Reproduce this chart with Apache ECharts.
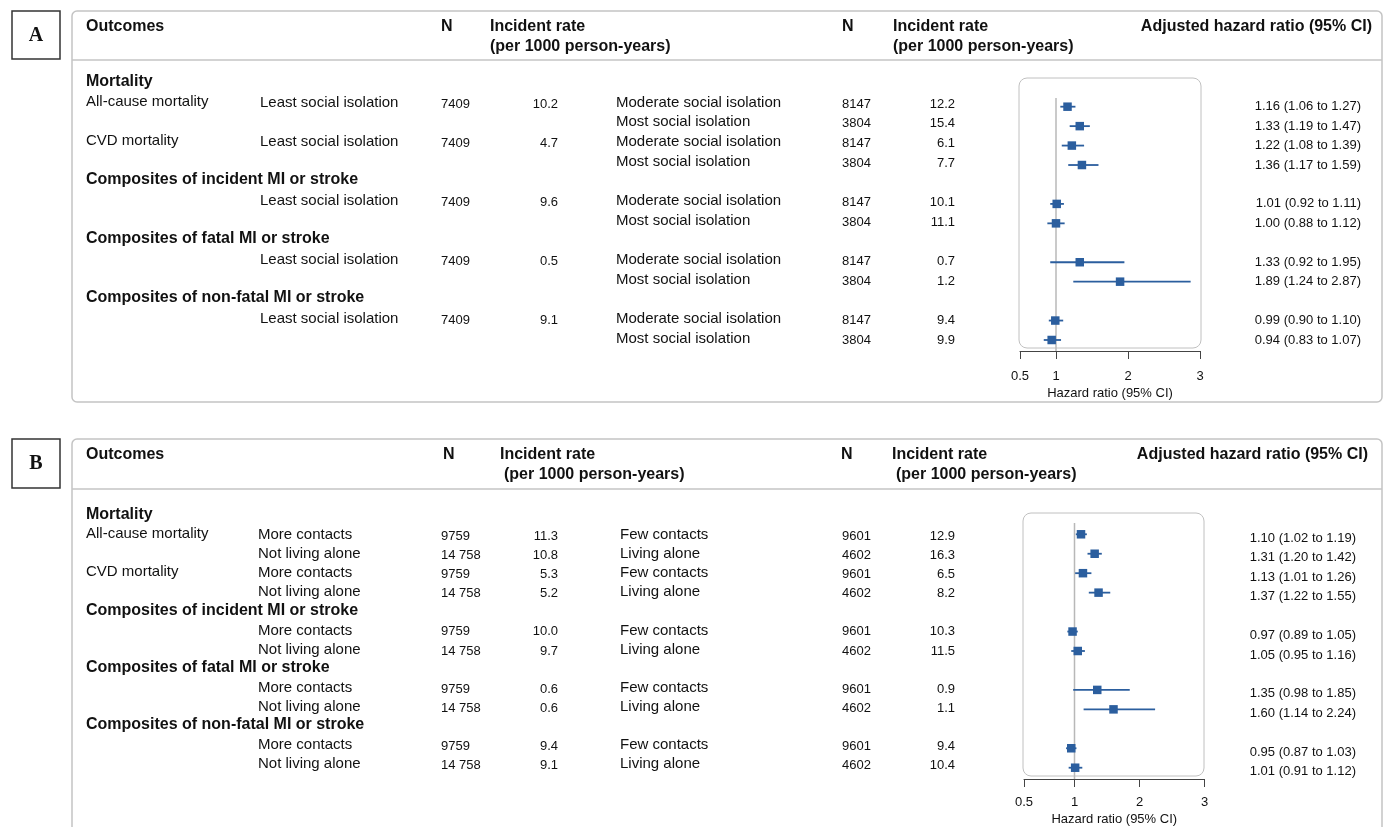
<!DOCTYPE html>
<html>
<head>
<meta charset="utf-8">
<title>Social isolation and cardiovascular outcomes</title>
<script src="https://cdn.jsdelivr.net/npm/echarts@6.0.0/dist/echarts.min.js"></script>
<style>
html,body{margin:0;padding:0;background:#fff;}
#chart{width:1385px;height:827px;}
</style>
</head>
<body>
<div id="chart"></div>
<script>
// ---------- shared row structure (row index inside a panel) ----------
var groupNames = ['Mortality', 'Composites of incident MI or stroke', 'Composites of fatal MI or stroke', 'Composites of non-fatal MI or stroke'];
var groupRows = [-1, 4, 7, 10];
var outcomeNames = ['All-cause mortality', 'CVD mortality'];
var outcomeRows = [0, 2];
var compRows = [0, 1, 2, 3, 5, 6, 8, 9, 11, 12];

// ---------- panel A : social isolation ----------
var refRowsA = [0, 2, 5, 8, 11];
var refLabelA = ['Least social isolation', 'Least social isolation', 'Least social isolation', 'Least social isolation', 'Least social isolation'];
var refNA = [7409, 7409, 7409, 7409, 7409];
var refRateA = [10.2, 4.7, 9.6, 0.5, 9.1];
var compLabelA = ['Moderate social isolation', 'Most social isolation', 'Moderate social isolation', 'Most social isolation',
  'Moderate social isolation', 'Most social isolation', 'Moderate social isolation', 'Most social isolation',
  'Moderate social isolation', 'Most social isolation'];
var compNA = [8147, 3804, 8147, 3804, 8147, 3804, 8147, 3804, 8147, 3804];
var compRateA = [12.2, 15.4, 6.1, 7.7, 10.1, 11.1, 0.7, 1.2, 9.4, 9.9];
var hrA = [1.16, 1.33, 1.22, 1.36, 1.01, 1.00, 1.33, 1.89, 0.99, 0.94];
var loA = [1.06, 1.19, 1.08, 1.17, 0.92, 0.88, 0.92, 1.24, 0.90, 0.83];
var hiA = [1.27, 1.47, 1.39, 1.59, 1.11, 1.12, 1.95, 2.87, 1.10, 1.07];

// ---------- panel B : contacts / living alone ----------
var refRowsB = [0, 1, 2, 3, 5, 6, 8, 9, 11, 12];
var refLabelB = ['More contacts', 'Not living alone', 'More contacts', 'Not living alone', 'More contacts',
  'Not living alone', 'More contacts', 'Not living alone', 'More contacts', 'Not living alone'];
var refNB = [9759, 14758, 9759, 14758, 9759, 14758, 9759, 14758, 9759, 14758];
var refRateB = [11.3, 10.8, 5.3, 5.2, 10.0, 9.7, 0.6, 0.6, 9.4, 9.1];
var compLabelB = ['Few contacts', 'Living alone', 'Few contacts', 'Living alone', 'Few contacts',
  'Living alone', 'Few contacts', 'Living alone', 'Few contacts', 'Living alone'];
var compNB = [9601, 4602, 9601, 4602, 9601, 4602, 9601, 4602, 9601, 4602];
var compRateB = [12.9, 16.3, 6.5, 8.2, 10.3, 11.5, 0.9, 1.1, 9.4, 10.4];
var hrB = [1.10, 1.31, 1.13, 1.37, 0.97, 1.05, 1.35, 1.60, 0.95, 1.01];
var loB = [1.02, 1.20, 1.01, 1.22, 0.89, 0.95, 0.98, 1.14, 0.87, 0.91];
var hiB = [1.19, 1.42, 1.26, 1.55, 1.05, 1.16, 1.85, 2.24, 1.03, 1.12];

// ---------- axis ticks ----------
var refHR = 1;
var ticksA = [0.5, 1, 2, 3];
var tickLabelsA = ['0.5', '1', '2', '3'];
// in panel B the "0.5" tick sits at the left end of the axis, as in the original figure
var ticksB = [0.223, 1, 2, 3];
var tickLabelsB = ['0.5', '1', '2', '3'];

var FONT = '"Liberation Sans", Arial, Helvetica, sans-serif';
var SERIF = '"Liberation Serif", "Times New Roman", serif';
var INK = '#111';
var BLUE = '#2b5e9e';
var GREY = '#c4c4c4';

function fmtN(n) {
  if (n < 10000) return String(n);
  var t = String(n % 1000);
  while (t.length < 3) t = '0' + t;
  return Math.floor(n / 1000) + ' ' + t;
}
function fmtHR(h, l, u) {
  return h.toFixed(2) + ' (' + l.toFixed(2) + ' to ' + u.toFixed(2) + ')';
}

// text column: y comes from the panel's row axis, x is a fixed column position
function textCol(idx, xv, rows, texts, px, o) {
  return {
    type: 'custom', xAxisIndex: idx, yAxisIndex: idx, silent: true, z: 5,
    data: rows.map(function (r) { return [xv, r]; }),
    renderItem: function (params, api) {
      var p = api.coord([api.value(0), api.value(1)]);
      return {
        type: 'text', x: px, y: p[1] + (o.dy || 0),
        style: {
          text: texts[params.dataIndex], fill: INK,
          fontSize: o.size, fontWeight: o.bold ? 'bold' : 'normal', fontFamily: FONT,
          align: o.align || 'left', verticalAlign: 'middle'
        }
      };
    }
  };
}

function forest(idx, rows, hr, lo, hi) {
  return {
    type: 'custom', xAxisIndex: idx, yAxisIndex: idx, silent: true, z: 3,
    data: rows.map(function (r, i) { return [hr[i], r, lo[i], hi[i]]; }),
    encode: { x: [0, 2, 3], y: 1 },
    renderItem: function (params, api) {
      var c = api.coord([api.value(0), api.value(1)]);
      var a = api.coord([api.value(2), api.value(1)]);
      var b = api.coord([api.value(3), api.value(1)]);
      var s = 8.5;
      return {
        type: 'group', children: [
          { type: 'line', shape: { x1: a[0], y1: a[1], x2: b[0], y2: b[1] }, style: { stroke: BLUE, lineWidth: 1.8 } },
          { type: 'rect', shape: { x: c[0] - s / 2, y: c[1] - s / 2, width: s, height: s }, style: { fill: BLUE } }
        ]
      };
    }
  };
}

function refLine(idx, y0, y1) {
  return {
    type: 'line', xAxisIndex: idx, yAxisIndex: idx, silent: true, z: 1,
    data: [[refHR, y0], [refHR, y1]], symbol: 'none', animation: false,
    lineStyle: { color: '#b8b8b8', width: 1.5 }
  };
}

function forestX(g, min, max, ticks, labels, nameGap, margin) {
  return {
    gridIndex: g, type: 'value', min: min, max: max,
    axisLine: { show: true, onZero: false, lineStyle: { color: '#444', width: 1 } },
    axisTick: { show: true, length: 8, customValues: ticks, lineStyle: { color: '#444' } },
    axisLabel: {
      show: true, customValues: ticks, color: INK, fontSize: 13, fontFamily: FONT, margin: margin,
      formatter: function (v) {
        for (var i = 0; i < ticks.length; i++) if (Math.abs(ticks[i] - v) < 1e-6) return labels[i];
        return '';
      }
    },
    splitLine: { show: false },
    name: 'Hazard ratio (95% CI)', nameLocation: 'middle', nameGap: nameGap,
    nameTextStyle: { color: INK, fontSize: 13, fontFamily: FONT }
  };
}
function hiddenX(g) { return { gridIndex: g, type: 'value', min: 0, max: 1, show: false }; }
function rowY(g, min, max) { return { gridIndex: g, type: 'value', inverse: true, min: min, max: max, show: false }; }

// row geometry of the two tables
var sA = 19.7, r0A = 102.5;
var sB = 19.08, r0B = 535;

function panelSeries(tIdx, fIdx, fMin, d, o) {
  var list = [];
  list.push(textCol(tIdx, 0, groupRows, groupNames, 86, { size: 16, bold: true, dy: o.grpDy }));
  list.push(textCol(tIdx, 0, outcomeRows, outcomeNames, 86, { size: 15, dy: -1 }));
  list.push(textCol(tIdx, 0, d.refRows, d.refLabel, o.refX, { size: 15 }));
  list.push(textCol(tIdx, 0, d.refRows, d.refN.map(fmtN), 441, { size: 13, dy: 1.5 }));
  list.push(textCol(tIdx, 0, d.refRows, d.refRate.map(function (v) { return v.toFixed(1); }), 558, { size: 13, dy: 1.5, align: 'right' }));
  list.push(textCol(tIdx, 0, compRows, d.compLabel, o.compX, { size: 15 }));
  list.push(textCol(tIdx, 0, compRows, d.compN.map(fmtN), 842, { size: 13, dy: 1.5 }));
  list.push(textCol(tIdx, 0, compRows, d.compRate.map(function (v) { return v.toFixed(1); }), 955, { size: 13, dy: 1.5, align: 'right' }));
  list.push(refLine(fIdx, o.yMin, o.yMax));
  list.push(forest(fIdx, compRows, d.hr, d.lo, d.hi));
  list.push(textCol(fIdx, fMin, compRows, d.hr.map(function (h, i) { return fmtHR(h, d.lo[i], d.hi[i]); }), o.hrX, { size: 13, dy: o.hrDy, align: 'right' }));
  return list;
}

function txt(x, y, t, size, bold, align, fam) {
  return {
    type: 'text', x: x, y: y, silent: true,
    style: {
      text: t, fill: INK, fontSize: size, fontWeight: bold ? 'bold' : 'normal', fontFamily: fam || FONT,
      align: align || 'left', verticalAlign: 'middle', textAlign: align || 'left', textVerticalAlign: 'middle'
    }
  };
}
function box(x, y, w, h, r, stroke, lw) {
  return { type: 'rect', silent: true, shape: { x: x, y: y, width: w, height: h, r: r }, style: { fill: 'none', stroke: stroke, lineWidth: lw } };
}
function hline(x1, x2, y, stroke, lw) {
  return { type: 'line', silent: true, shape: { x1: x1, y1: y, x2: x2, y2: y }, style: { stroke: stroke, lineWidth: lw } };
}

function headers(y1, y2, x) {
  return [
    txt(86, y1, 'Outcomes', 16, true),
    txt(x.n1, y1, 'N', 16, true),
    txt(x.ir1, y1, 'Incident rate', 16, true),
    txt(x.pp1, y2, '(per 1000 person-years)', 16, true),
    txt(x.n2, y1, 'N', 16, true),
    txt(x.ir2, y1, 'Incident rate', 16, true),
    txt(x.pp2, y2, '(per 1000 person-years)', 16, true),
    txt(x.adj, y1, 'Adjusted hazard ratio (95% CI)', 16, true, 'right')
  ];
}

var graphics = [].concat(
  [
    box(72, 11, 1310, 391, 5, GREY, 1.5),
    hline(72, 1382, 60, GREY, 1.5),
    box(12, 11, 48, 48, 0, '#333', 1.5),
    txt(36, 36, 'A', 20, true, 'center', SERIF),
    box(1019, 78, 182, 270, 8, '#c0c0c0', 1),

    box(72, 439, 1310, 400, 5, GREY, 1.5),
    hline(72, 1382, 489, GREY, 1.5),
    box(12, 439, 48, 49, 0, '#333', 1.5),
    txt(36, 464, 'B', 20, true, 'center', SERIF),
    box(1023, 513, 181, 263, 8, '#c0c0c0', 1)
  ],
  headers(27, 47, { n1: 441, ir1: 490, pp1: 490, n2: 842, ir2: 893, pp2: 893, adj: 1372 }),
  headers(455, 475, { n1: 443, ir1: 500, pp1: 504, n2: 841, ir2: 892, pp2: 896, adj: 1368 })
);

var dataA = { refRows: refRowsA, refLabel: refLabelA, refN: refNA, refRate: refRateA, compLabel: compLabelA, compN: compNA, compRate: compRateA, hr: hrA, lo: loA, hi: hiA };
var dataB = { refRows: refRowsB, refLabel: refLabelB, refN: refNB, refRate: refRateB, compLabel: compLabelB, compN: compNB, compRate: compRateB, hr: hrB, lo: loB, hi: hiB };

var option = {
  animation: false,
  grid: [
    { left: 0, width: 1385, top: r0A - 2 * sA, height: 16 * sA },
    { left: 1020, width: 180, top: 98, height: 253 },
    { left: 0, width: 1385, top: r0B - 2 * sB, height: 16 * sB },
    { left: 1024, width: 180.5, top: 523, height: 256 }
  ],
  xAxis: [
    hiddenX(0),
    forestX(1, 0.5, 3, ticksA, tickLabelsA, 36, 19),
    hiddenX(2),
    forestX(3, 0.223, 3, ticksB, tickLabelsB, 34, 17)
  ],
  yAxis: [
    rowY(0, -2, 14),
    rowY(1, -0.447, 12.566),
    rowY(2, -2, 14),
    rowY(3, -0.58, 12.58)
  ],
  graphic: { elements: graphics },
  series: [].concat(
    panelSeries(0, 1, 0.5, dataA, { refX: 260, compX: 616, hrX: 1361, hrDy: 0, grpDy: -1.5, yMin: -0.447, yMax: 12.566 }),
    panelSeries(2, 3, 0.223, dataB, { refX: 258, compX: 620, hrX: 1356, hrDy: 4, grpDy: -1, yMin: -0.58, yMax: 12.58 })
  )
};

var chart = echarts.init(document.getElementById('chart'));
chart.setOption(option);
window.addEventListener('resize', function () { chart.resize(); });
</script>
</body>
</html>
